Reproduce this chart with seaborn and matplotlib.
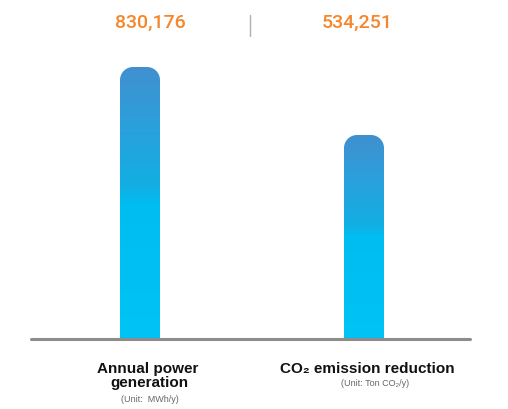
import numpy as np
import pandas as pd
import matplotlib
matplotlib.use("Agg")
import matplotlib.pyplot as plt
import seaborn as sns
from matplotlib.path import Path
from matplotlib.patches import PathPatch
from matplotlib.colors import LinearSegmentedColormap

# ---- data ----
categories = ["Annual power\ngeneration", "CO\u2082 emission reduction"]
values = [830176, 534251]
value_labels = ["830,176", "534,251"]
units = ["(Unit:  MWh/y)", "(Unit: Ton CO\u2082/y)"]

# ---- layout constants ----
W, H = 508, 409
FLOOR = -353500          # visual axis floor (chart is not zero-based)
TOP = 1121750
BASE_PX = 70             # baseline height from bottom in px
ORANGE = "#f5862b"
GRAY = "#8c8c8c"

sns.set_theme(style="white")
plt.rcParams["font.family"] = ["Liberation Sans Narrow", "Liberation Sans", "DejaVu Sans"]

fig = plt.figure(figsize=(W / 100, H / 100), dpi=100)
ax = fig.add_axes([0, BASE_PX / H, 1, (H - BASE_PX) / H])

df = pd.DataFrame({"cat": categories, "val": np.array(values) - FLOOR})
sns.barplot(data=df, x="cat", y="val", ax=ax, width=40 / 224, color="#00c4f4")

px_per_x = 224.0
xmin = -140 / px_per_x
ax.set_xlim(xmin, xmin + W / px_per_x)
ax.set_ylim(0, TOP - FLOOR)
ax.axis("off")

cmap = LinearSegmentedColormap.from_list(
    "g", [(0, "#00c3f5"), (0.5, "#00bdf1"), (0.56, "#12afe3"),
          (0.8, "#2c9fdb"), (1.0, "#4190cf")])
grad = np.linspace(0, 1, 256).reshape(-1, 1)

ypx = (TOP - FLOOR) / (H - BASE_PX)   # data units per pixel
r = 13
for p in ax.patches:
    x0, y0 = p.get_x(), p.get_y()
    w, h = p.get_width(), p.get_height()
    x1, y1 = x0 + w, y0 + h
    rx, ry = r / px_per_x, r * ypx
    k = 0.5523
    verts = [(x0, y0), (x0, y1 - ry),
             (x0, y1 - ry + k * ry), (x0 + rx - k * rx, y1), (x0 + rx, y1),
             (x1 - rx, y1),
             (x1 - rx + k * rx, y1), (x1, y1 - ry + k * ry), (x1, y1 - ry),
             (x1, y0), (x0, y0)]
    codes = [Path.MOVETO, Path.LINETO,
             Path.CURVE4, Path.CURVE4, Path.CURVE4,
             Path.LINETO,
             Path.CURVE4, Path.CURVE4, Path.CURVE4,
             Path.LINETO, Path.CLOSEPOLY]
    clip = PathPatch(Path(verts, codes), facecolor="none", edgecolor="none",
                     transform=ax.transData)
    ax.add_patch(clip)
    im = ax.imshow(grad, cmap=cmap, extent=[x0, x1, y0, y1], origin="lower",
                   aspect="auto", zorder=3)
    im.set_clip_path(clip)
    p.set_visible(False)

ax.set_xlim(xmin, xmin + W / px_per_x)
ax.set_ylim(0, TOP - FLOOR)

# baseline
ax.axhline(0, xmin=31 / W, xmax=470 / W, color=GRAY, lw=2.2, zorder=4, clip_on=False)

def fx(px):
    return px / W

def fy(py):
    return 1 - py / H

# value labels
for cx, lab in zip([150, 357], value_labels):
    fig.text(fx(cx), fy(23), lab, ha="center", va="center", color=ORANGE,
             fontsize=14, family=["Roboto", "DejaVu Sans"], fontweight="medium")
# separator
fig.add_artist(plt.Line2D([fx(250), fx(250)], [fy(15), fy(36)], color="#b0b0b0", lw=1))

# category labels
fig.text(fx(148), fy(373), categories[0].split("\n")[0], ha="center", va="baseline",
         fontsize=11, fontweight="bold", color="#111111")
fig.text(fx(149), fy(387), categories[0].split("\n")[1], ha="center", va="baseline",
         fontsize=11, fontweight="bold", color="#111111")
fig.text(fx(150), fy(400), units[0], ha="center", va="center", fontsize=6.5, color="#666666")
fig.text(fx(367), fy(373), categories[1], ha="center", va="baseline",
         fontsize=11, fontweight="bold", color="#111111")
fig.text(fx(375), fy(383), units[1], ha="center", va="center", fontsize=6.5, color="#666666")

fig.savefig("out.png", dpi=100, facecolor="white")
